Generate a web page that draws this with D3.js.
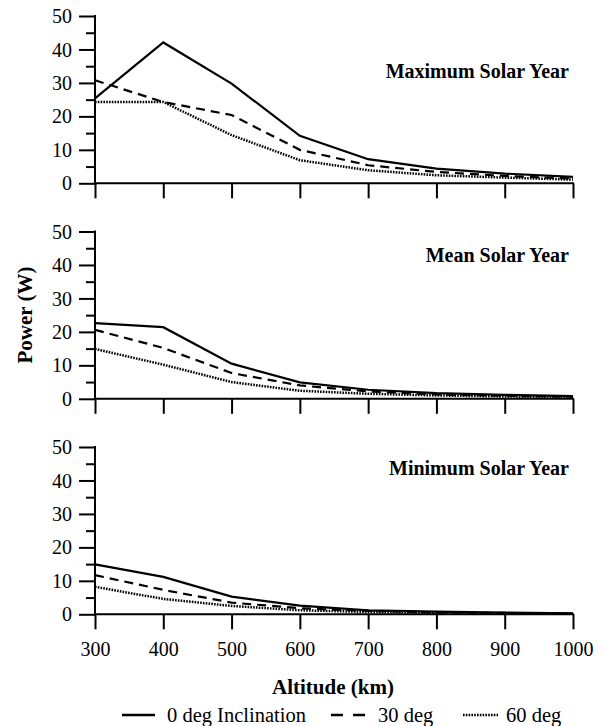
<!DOCTYPE html>
<html><head><meta charset="utf-8">
<script src="https://cdn.jsdelivr.net/npm/d3@7"></script>
<style>body{margin:0;background:#fff}svg{display:block}</style>
</head><body><svg id="c" width="605" height="726"></svg>
<script>
const altitudes = [300,400,500,600,700,800,900,1000];
const panelTitles = ["Maximum Solar Year","Mean Solar Year","Minimum Solar Year"];
const seriesNames = ["0 deg Inclination","30 deg","60 deg"];
const maxDeg0  = [25.4,42.1,29.8,14.2,7.2,4.4,2.9,1.9];
const maxDeg30 = [30.8,24.3,20.4,10.0,5.4,3.4,2.2,1.4];
const maxDeg60 = [24.3,24.3,14.4,6.9,3.9,2.4,1.7,1.1];
const meanDeg0  = [22.6,21.4,10.5,4.9,2.7,1.7,1.2,0.8];
const meanDeg30 = [20.6,15.2,7.7,4.0,2.2,1.3,0.9,0.6];
const meanDeg60 = [14.9,10.2,5.0,2.4,1.5,1.0,0.7,0.4];
const minDeg0  = [14.9,11.2,5.3,2.6,1.2,0.8,0.5,0.3];
const minDeg30 = [11.7,7.3,3.5,1.8,1.0,0.6,0.4,0.2];
const minDeg60 = [8.2,4.6,2.5,1.2,0.7,0.4,0.3,0.2];
const yTicks = [0,10,20,30,40,50];
const yMinor = [5,15,25,35,45];

const FONT = '"Liberation Serif","Times New Roman",serif';
const panels = [[maxDeg0,maxDeg30,maxDeg60],[meanDeg0,meanDeg30,meanDeg60],[minDeg0,minDeg30,minDeg60]];
const dashes = [null,"9,6","1.6,1.2"];
const svg = d3.select("#c");
const x = d3.scaleLinear().domain([300,1000]).range([95,573]);
const tops = [16,231.5,447];
const H = 167.3;

panels.forEach((ser,pi)=>{
  const y = d3.scaleLinear().domain([0,50]).range([tops[pi]+H,tops[pi]]);
  const g = svg.append("g");
  const ya = g.append("g").attr("transform",`translate(${x(300)},0)`)
    .call(d3.axisLeft(y).tickValues(yTicks).tickSize(16).tickPadding(7).tickFormat(d3.format("d")));
  ya.attr("font-family",FONT).attr("font-size",20);
  ya.select(".domain").remove();
  ya.selectAll(".tick line").attr("stroke","#000").attr("stroke-width",2);
  ya.selectAll(".tick text").attr("font-family",FONT).style("font-family",FONT).style("font-size","20px").attr("fill","#000").attr("dy","0.33em");
  const ym = g.append("g").attr("transform",`translate(${x(300)},0)`)
    .call(d3.axisLeft(y).tickValues(yMinor).tickSize(9).tickFormat(""));
  ym.select(".domain").remove();
  ym.selectAll(".tick line").attr("stroke","#000").attr("stroke-width",2);
  g.append("line").attr("x1",x(300)).attr("x2",x(300)).attr("y1",y(50)-1).attr("y2",y(0)).attr("stroke","#000").attr("stroke-width",2);
  const xa = g.append("g").attr("transform",`translate(0,${y(0)})`)
    .call(d3.axisBottom(x).tickValues(altitudes).tickSize(15).tickPadding(13).tickFormat(pi===2?d3.format("d"):""));
  xa.attr("font-family",FONT).attr("font-size",20);
  xa.select(".domain").remove();
  xa.selectAll(".tick line").attr("stroke","#000").attr("stroke-width",2);
  xa.selectAll(".tick text").attr("font-family",FONT).style("font-family",FONT).style("font-size","20px").attr("fill","#000");
  g.append("line").attr("x1",x(300)).attr("x2",x(1000)+1).attr("y1",y(0)).attr("y2",y(0)).attr("stroke","#000").attr("stroke-width",2);
  const line = d3.line().x((d,i)=>x(altitudes[i])).y(d=>y(d));
  ser.forEach((vals,si)=>{
    g.append("path").datum(vals).attr("d",line).attr("fill","none").attr("stroke","#000")
      .attr("stroke-width",si===2?2.5:2.2).attr("stroke-dasharray",dashes[si]);
  });
  g.append("text").attr("x",569).attr("y",[78,262,475][pi]).attr("text-anchor","end")
    .style("font-family",FONT).style("font-size","20px").style("font-weight","bold").text(panelTitles[pi]);
});

svg.append("text").attr("transform","translate(32,315) rotate(-90)").attr("text-anchor","middle")
  .style("font-family",FONT).style("font-size","21px").style("font-weight","bold").text("Power (W)");
svg.append("text").attr("x",333).attr("y",694).attr("text-anchor","middle")
  .style("font-family",FONT).style("font-size","21px").style("font-weight","bold").text("Altitude (km)");

const legX = [[122,155,167],[331,371,378],[463,498,506]];
seriesNames.forEach((n,i)=>{
  const [a,b,t] = legX[i];
  svg.append("line").attr("x1",a).attr("x2",b).attr("y1",715).attr("y2",715).attr("stroke","#000")
    .attr("stroke-width",2.6).attr("stroke-dasharray",i===1?"12,10":dashes[i]);
  svg.append("text").attr("x",t).attr("y",722).style("font-family",FONT).style("font-size","20.5px").text(n);
});
</script></body></html>
